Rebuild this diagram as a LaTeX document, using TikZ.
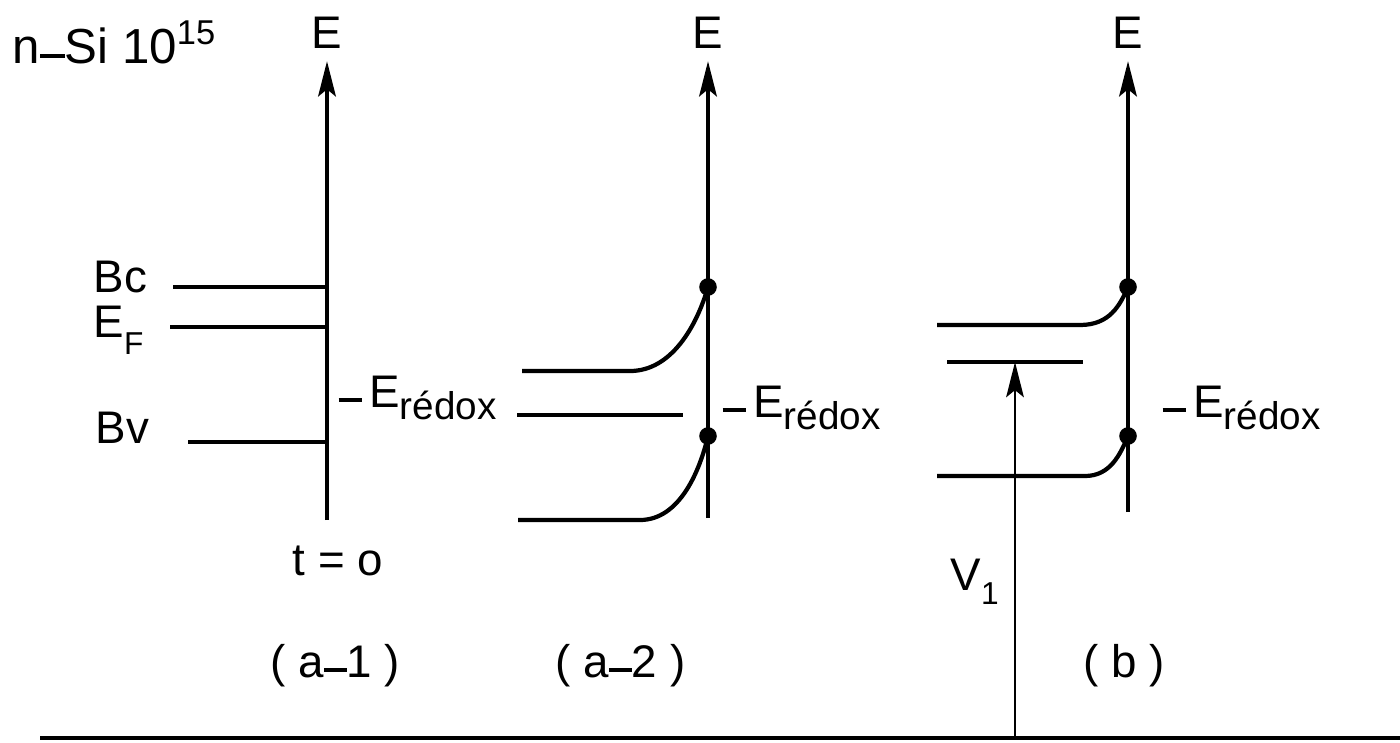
\documentclass[tikz,border=0pt]{standalone}
\usepackage{fontspec}
\setmainfont{Liberation Sans}
\usetikzlibrary{arrows.meta}
\newcommand{\ldash}{\rule[0.1em]{0.5em}{0.09em}}
\newcommand{\redox}{\ldash\,E\raisebox{-3.5pt}{\fontsize{11}{12}\selectfont rédox}}
\tikzset{
  band/.style={line width=1.2pt},
  axis/.style={line width=1.2pt,-{Stealth[length=10pt,width=5pt,inset=2pt]}},
  vbias/.style={line width=0.8pt,-{Stealth[length=10pt,width=5pt,inset=2pt]}},
  dot/.style={circle,fill,inner sep=0pt,minimum size=5pt},
  lbl/.style={anchor=base west,inner sep=0pt},
}
\begin{document}
\begin{tikzpicture}[x=0.01cm,y=-0.01cm,font=\fontsize{13}{15}\selectfont]
  \useasboundingbox (0,0) rectangle (1400,742);
  \node[lbl,font=\fontsize{14}{16}\selectfont] (title) at (12,63) {n\ldash Si 10\textsuperscript{15}};
  % (a-1)
  \coordinate (a1bot) at (327,520);
  \coordinate (a1c) at (327,287);
  \coordinate (a1f) at (327,327);
  \coordinate (a1v) at (327,442);
  \coordinate (Bcl) at (173,287);
  \coordinate (EFl) at (170,327);
  \coordinate (Bvl) at (188,442);
  \node (Ea1) at (327,33) {E};
  \draw[axis] (a1bot) -- (Ea1);
  \draw[band] (Bcl) -- (a1c);
  \draw[band] (EFl) -- (a1f);
  \draw[band] (Bvl) -- (a1v);
  \node[lbl] (Bc) at (93,292) {Bc};
  \node[lbl] (EF) at (93,337) {E\raisebox{-5pt}{\small F}};
  \node[lbl] (Bv) at (95,443) {Bv};
  \node[lbl] (red1) at (338,407) {\redox};
  \node[lbl] (t0) at (292,575) {t = o};
  \node[lbl] (cap1) at (270,677) {( a\ldash 1 )};
  % (a-2)
  \coordinate (a2bot) at (708,518);
  \coordinate (a2c) at (708,287);
  \coordinate (a2v) at (708,436);
  \coordinate (c2s) at (522,371);
  \coordinate (c2k) at (630,371);
  \coordinate (r2s) at (517,415);
  \coordinate (r2e) at (683,415);
  \coordinate (v2s) at (518,520);
  \coordinate (v2k) at (640,520);
  \node (Ea2) at (708,33) {E};
  \draw[axis] (a2bot) -- (Ea2);
  \draw[band] (c2s) -- (c2k) .. controls (672,371) and (697,325) .. (a2c);
  \draw[band] (r2s) -- (r2e);
  \draw[band] (v2s) -- (v2k) .. controls (680,520) and (700,470) .. (a2v);
  \node[dot] (d2c) at (a2c) {};
  \node[dot] (d2v) at (a2v) {};
  \node[lbl] (red2) at (722,417) {\redox};
  \node[lbl] (cap2) at (555,677) {( a\ldash 2 )};
  % (b)
  \coordinate (bbot) at (1128,512);
  \coordinate (bc) at (1128,287);
  \coordinate (bv) at (1128,436);
  \coordinate (cbs) at (937,325);
  \coordinate (cbk) at (1080,325);
  \coordinate (fbs) at (947,362);
  \coordinate (fbe) at (1083,362);
  \coordinate (vbs) at (937,476);
  \coordinate (vbk) at (1085,476);
  \coordinate (Vfoot) at (1015,738);
  \coordinate (Vtop) at (1015,362);
  \node (Eb) at (1128,33) {E};
  \draw[axis] (bbot) -- (Eb);
  \draw[band] (cbs) -- (cbk) .. controls (1110,325) and (1120,305) .. (bc);
  \draw[band] (fbs) -- (fbe);
  \draw[band] (vbs) -- (vbk) .. controls (1110,476) and (1120,455) .. (bv);
  \node[dot] (dbc) at (bc) {};
  \node[dot] (dbv) at (bv) {};
  \node[lbl] (redb) at (1162,417) {\redox};
  \draw[vbias] (Vfoot) -- (Vtop);
  \node[lbl] (V1) at (950,590) {V\raisebox{-4pt}{\small 1}};
  \node[lbl] (capb) at (1083,677) {( b )};
  % base line
  \coordinate (baseL) at (40,738);
  \coordinate (baseR) at (1400,738);
  \draw[line width=1pt] (baseL) -- (baseR);
\end{tikzpicture}
\end{document}
